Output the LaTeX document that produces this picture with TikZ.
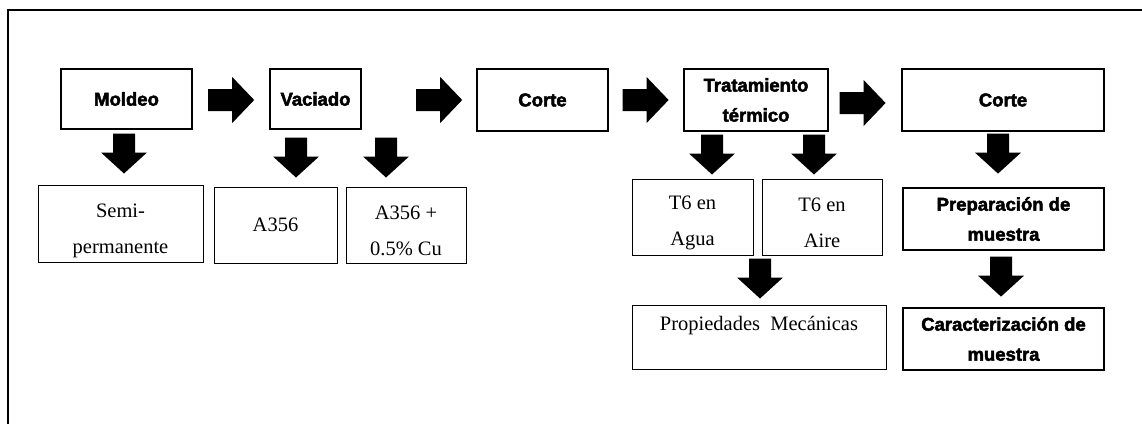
\documentclass[tikz,border=0pt]{standalone}
\usepackage{fontspec}
\setmainfont{Liberation Serif}
\newfontfamily\heavy{Liberation Sans}[BoldFeatures={FakeBold=2.5}]
\usetikzlibrary{calc}
\tikzset{
  stepbox/.style={draw, line width=1.6pt, inner sep=0pt, align=center,
    font=\heavy\bfseries\fontsize{18.5}{30}\selectfont},
  thickbox/.style={stepbox, line width=2.8pt},
  resbox/.style={draw, line width=1pt, inner sep=0pt},
  restext/.style 2 args={label={[align=center, font=\fontsize{20.5}{36}\selectfont, yshift=#1]center:{#2}}},
  darrow/.pic={\fill (0,0) -- (-23,-21) -- (-11,-21) -- (-11,-40) -- (11,-40) -- (11,-21) -- (23,-21) -- cycle;},
  rarrow/.pic={\fill (0,0) -- (-22,-23) -- (-22,-11) -- (-46,-11) -- (-46,11) -- (-22,11) -- (-22,23) -- cycle;}
}
\begin{document}
\begin{tikzpicture}[x=1pt,y=-1pt]
\useasboundingbox (0,0) rectangle (1142,424);
\coordinate (ftr) at (1142,10);
\coordinate (ftl) at (8,10);
\coordinate (fbl) at (8,424);
\draw[line width=2pt] (ftr) -- (ftl) -- (fbl);

% process row
\node[stepbox, minimum width=131, minimum height=60] (moldeo) at (126.5,99) {Moldeo};
\node[stepbox, minimum width=91, minimum height=60] (vaciado) at (315.5,99) {Vaciado};
\node[stepbox, minimum width=131, minimum height=62] (corte1) at (542.5,100) {Corte};
\node[thickbox, minimum width=144, minimum height=62] (trat) at (756,100) {Tratamiento\\térmico};
\node[thickbox, minimum width=202, minimum height=62] (corte2) at (1003,100) {Corte};

% results
\node[resbox, minimum width=165, minimum height=77, restext={-7pt}{Semi-\\permanente}] (semi) at (120.5,223.5) {};
\node[resbox, minimum width=123, minimum height=76, restext={0pt}{A356}] (a356) at (275.5,225) {};
\node[resbox, minimum width=120, minimum height=76, restext={-5.5pt}{A356 +\\0.5\% Cu}] (a356cu) at (406,225) {};
\node[resbox, minimum width=121, minimum height=76, restext={-5.5pt}{T6 en\\Agua}] (t6agua) at (692.5,217) {};
\node[resbox, minimum width=120, minimum height=76, restext={-5.5pt}{T6 en\\Aire}] (t6aire) at (822,217) {};
\node[resbox, minimum width=254, minimum height=64, restext={-4pt}{Propiedades\ \ Mecánicas\\\mbox{}}] (prop) at (759,337) {};
\node[thickbox, minimum width=201, minimum height=62] (prep) at (1003.5,219) {Preparación de\\muestra};
\node[thickbox, minimum width=201, minimum height=62] (car) at (1003.5,339) {Caracterización de\\muestra};

% right block arrows (origin at tip)
\pic at ($(vaciado.west)+(-15,1)$) {rarrow};
\pic at ($(corte1.west)+(-14,0)$) {rarrow};
\pic at ($(trat.west)+(-14,0)$) {rarrow};
\pic at ($(corte2.west)+(-15,3)$) {rarrow};

% down block arrows (origin at tip)
\pic at ($(semi.north)+(3.5,-11)$) {darrow};
\pic at ($(a356.north)+(20.5,-9)$) {darrow};
\pic at ($(a356cu.north)+(-20,-9)$) {darrow};
\pic at ($(t6agua.north)+(19.5,-4)$) {darrow};
\pic at ($(t6aire.north)+(-8,-4)$) {darrow};
\pic at ($(prep.north)+(-5.5,-13)$) {darrow};
\pic at ($(prop.north)+(1,-6)$) {darrow};
\pic at ($(car.north)+(-2.5,-10)$) {darrow};
\end{tikzpicture}
\end{document}
